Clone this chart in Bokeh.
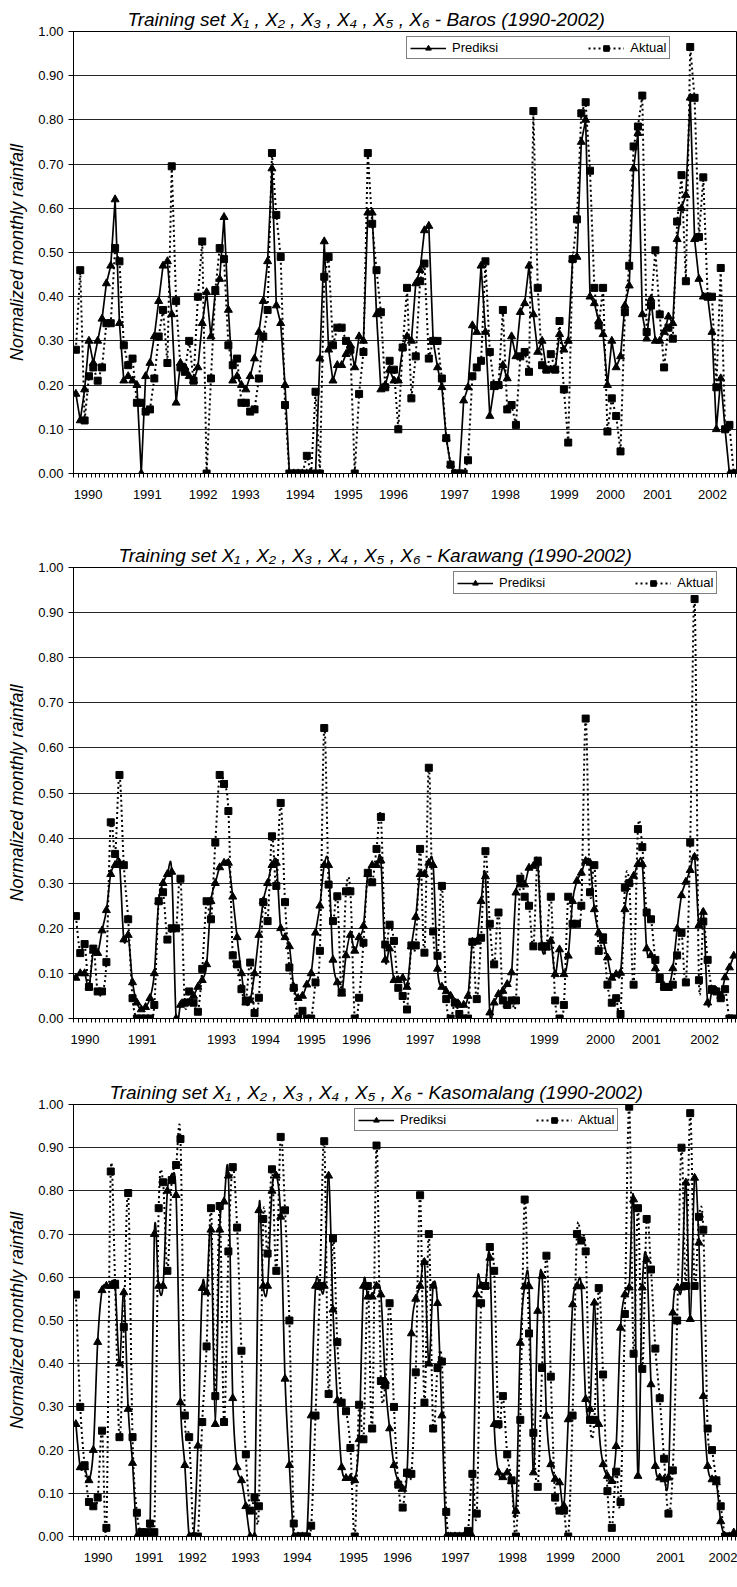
import numpy as np
from bokeh.plotting import figure
from bokeh.models import (Range1d, FixedTicker, Legend, LegendItem,
                          NumeralTickFormatter, ColumnDataSource)
from bokeh.layouts import column
from bokeh.embed import file_html
from bokeh.resources import INLINE

# ---------------- data ----------------
YEARS_ALL = ["1990", "1991", "1992", "1993", "1994", "1995", "1996",
             "1997", "1998", "1999", "2000", "2001", "2002"]
YEARS_KARAWANG = ["1990", "1991", "1993", "1994", "1995", "1996",
                  "1997", "1998", "1999", "2000", "2001", "2002"]

BAROS_PREDIKSI = [
    0.18, 0.12, 0.19, 0.30, 0.25, 0.30, 0.35, 0.43, 0.47, 0.62,
    0.34, 0.21, 0.22, 0.21, 0.20, 0.00, 0.22, 0.25, 0.31, 0.39,
    0.47, 0.48, 0.36, 0.16, 0.25, 0.24, 0.22, 0.21, 0.24, 0.34,
    0.41, 0.31, 0.41, 0.44, 0.58, 0.37, 0.21, 0.22, 0.20, 0.19,
    0.22, 0.26, 0.32, 0.39, 0.48, 0.69, 0.38, 0.34, 0.20, 0.00,
    0.00, 0.00, 0.00, 0.00, 0.00, 0.00, 0.26, 0.525, 0.28, 0.21,
    0.245, 0.245, 0.27, 0.29, 0.24, 0.31, 0.30, 0.59, 0.59, 0.36,
    0.19, 0.20, 0.235, 0.21, 0.21, 0.285, 0.31, 0.30, 0.43, 0.46,
    0.55, 0.56, 0.30, 0.24, 0.195, 0.08, 0.02, 0.00, 0.00, 0.165,
    0.195, 0.335, 0.32, 0.47, 0.32, 0.13, 0.195, 0.20, 0.245, 0.215,
    0.31, 0.265, 0.365, 0.385, 0.47, 0.36, 0.275, 0.30, 0.235, 0.235,
    0.235, 0.315, 0.28, 0.30, 0.485, 0.49, 0.75, 0.80, 0.40, 0.385,
    0.345, 0.315, 0.20, 0.30, 0.24, 0.265, 0.38, 0.425, 0.69, 0.77,
    0.36, 0.305, 0.395, 0.30, 0.30, 0.32, 0.355, 0.34, 0.53, 0.60,
    0.63, 0.85, 0.53, 0.44, 0.40, 0.40, 0.32, 0.10, 0.215, 0.10,
    0.00, 0.00, 0.00]
BAROS_AKTUAL = [
    0.28, 0.46, 0.12, 0.22, 0.24, 0.21, 0.24, 0.34, 0.34, 0.51,
    0.48, 0.29, 0.245, 0.26, 0.16, 0.16, 0.14, 0.145, 0.215, 0.31,
    0.37, 0.25, 0.695, 0.39, 0.24, 0.23, 0.30, 0.21, 0.40, 0.525,
    0.00, 0.215, 0.415, 0.51, 0.485, 0.29, 0.245, 0.26, 0.16, 0.16,
    0.14, 0.145, 0.215, 0.31, 0.37, 0.725, 0.585, 0.49, 0.155, 0.00,
    0.00, 0.00, 0.00, 0.04, 0.00, 0.185, 0.00, 0.445, 0.49, 0.29,
    0.33, 0.33, 0.30, 0.28, 0.00, 0.18, 0.275, 0.725, 0.565, 0.46,
    0.365, 0.195, 0.255, 0.235, 0.10, 0.285, 0.42, 0.17, 0.265, 0.435,
    0.475, 0.26, 0.30, 0.30, 0.215, 0.08, 0.02, 0.00, 0.00, 0.00,
    0.03, 0.22, 0.24, 0.255, 0.48, 0.275, 0.20, 0.20, 0.37, 0.145,
    0.155, 0.11, 0.265, 0.275, 0.23, 0.82, 0.42, 0.245, 0.235, 0.27,
    0.235, 0.345, 0.19, 0.07, 0.485, 0.575, 0.815, 0.84, 0.685, 0.42,
    0.335, 0.42, 0.095, 0.17, 0.13, 0.05, 0.365, 0.47, 0.74, 0.785,
    0.855, 0.32, 0.38, 0.505, 0.36, 0.24, 0.33, 0.305, 0.57, 0.675,
    0.435, 0.965, 0.85, 0.535, 0.67, 0.40, 0.40, 0.195, 0.465, 0.10,
    0.11, 0.00, 0.00]

KARAWANG_PREDIKSI = [
    0.09, 0.10, 0.10, 0.07, 0.15, 0.145, 0.195, 0.24, 0.32, 0.34,
    0.345, 0.175, 0.185, 0.08, 0.035, 0.02, 0.025, 0.045, 0.10, 0.26,
    0.30, 0.32, 0.325, 0.00, 0.03, 0.035, 0.035, 0.05, 0.07, 0.085,
    0.12, 0.26, 0.30, 0.335, 0.345, 0.345, 0.27, 0.18, 0.10, 0.035,
    0.04, 0.10, 0.185, 0.26, 0.30, 0.34, 0.345, 0.20, 0.18, 0.16,
    0.07, 0.045, 0.05, 0.075, 0.10, 0.19, 0.25, 0.34, 0.34, 0.13,
    0.08, 0.055, 0.14, 0.185, 0.15, 0.18, 0.205, 0.32, 0.34, 0.34,
    0.35, 0.13, 0.155, 0.085, 0.085, 0.09, 0.07, 0.16, 0.225, 0.32,
    0.32, 0.345, 0.34, 0.11, 0.07, 0.06, 0.05, 0.035, 0.03, 0.03,
    0.05, 0.17, 0.17, 0.26, 0.315, 0.013, 0.035, 0.054, 0.061, 0.076,
    0.102, 0.279, 0.297, 0.297, 0.334, 0.338, 0.345, 0.157, 0.157, 0.172,
    0.098, 0.153, 0.098, 0.139, 0.26, 0.305, 0.323, 0.349, 0.345, 0.242,
    0.19, 0.172, 0.135, 0.09, 0.098, 0.101, 0.242, 0.301, 0.316, 0.342,
    0.342, 0.155, 0.14, 0.111, 0.085, 0.072, 0.068, 0.111, 0.199, 0.273,
    0.303, 0.329, 0.358, 0.207, 0.236, 0.035, 0.061, 0.061, 0.05, 0.091,
    0.113, 0.139]
KARAWANG_AKTUAL = [
    0.227, 0.145, 0.165, 0.07, 0.155, 0.06, 0.06, 0.125, 0.435, 0.365,
    0.54, 0.34, 0.22, 0.045, 0.00, 0.00, 0.00, 0.00, 0.03, 0.26,
    0.28, 0.175, 0.20, 0.20, 0.31, 0.035, 0.06, 0.035, 0.015, 0.11,
    0.26, 0.22, 0.39, 0.54, 0.52, 0.46, 0.14, 0.12, 0.065, 0.04,
    0.124, 0.012, 0.046, 0.258, 0.216, 0.404, 0.294, 0.478, 0.258, 0.113,
    0.068, 0.00, 0.017, 0.00, 0.00, 0.08, 0.15, 0.644, 0.297, 0.216,
    0.271, 0.058, 0.282, 0.282, 0.00, 0.046, 0.168, 0.323, 0.302, 0.376,
    0.447, 0.164, 0.208, 0.172, 0.068, 0.05, 0.02, 0.162, 0.162, 0.376,
    0.146, 0.556, 0.193, 0.139, 0.294, 0.043, 0.00, 0.035, 0.01, 0.00,
    0.00, 0.17, 0.043, 0.179, 0.371, 0.21, 0.12, 0.235, 0.04, 0.03,
    0.04, 0.04, 0.31, 0.27, 0.25, 0.16, 0.35, 0.16, 0.16, 0.27,
    0.04, 0.00, 0.03, 0.27, 0.21, 0.21, 0.25, 0.665, 0.28, 0.34,
    0.15, 0.18, 0.075, 0.035, 0.045, 0.01, 0.29, 0.30, 0.075, 0.42,
    0.38, 0.235, 0.22, 0.13, 0.09, 0.07, 0.07, 0.075, 0.14, 0.19,
    0.08, 0.39, 0.93, 0.085, 0.215, 0.13, 0.065, 0.06, 0.045, 0.065,
    0.00, 0.00]

KASOMALANG_PREDIKSI = [
    0.26, 0.16, 0.16, 0.13, 0.20, 0.45, 0.57, 0.58, 0.58, 0.58,
    0.40, 0.565, 0.295, 0.17, 0.00, 0.00, 0.00, 0.00, 0.70, 0.58,
    0.58, 0.80, 0.83, 0.79, 0.31, 0.165, 0.00, 0.00, 0.21, 0.575,
    0.565, 0.71, 0.26, 0.71, 0.775, 0.835, 0.32, 0.16, 0.13, 0.07,
    0.00, 0.00, 0.755, 0.58, 0.58, 0.80, 0.835, 0.74, 0.365, 0.165,
    0.00, 0.00, 0.00, 0.00, 0.28, 0.58, 0.58, 0.58, 0.835, 0.525,
    0.315, 0.16, 0.135, 0.135, 0.13, 0.225, 0.58, 0.555, 0.555, 0.58,
    0.56, 0.36, 0.25, 0.165, 0.125, 0.11, 0.145, 0.47, 0.55, 0.58,
    0.635, 0.40, 0.58, 0.54, 0.28, 0.00, 0.00, 0.00, 0.00, 0.00,
    0.00, 0.00, 0.56, 0.58, 0.58, 0.645, 0.26, 0.148, 0.137, 0.148,
    0.128, 0.059, 0.448, 0.579, 0.579, 0.148, 0.522, 0.603, 0.279, 0.167,
    0.133, 0.125, 0.071, 0.271, 0.537, 0.579, 0.579, 0.318, 0.295, 0.541,
    0.26, 0.167, 0.14, 0.128, 0.209, 0.483, 0.56, 0.576, 0.78, 0.14,
    0.576, 0.641, 0.352, 0.163, 0.136, 0.132, 0.136, 0.518, 0.576, 0.576,
    0.819, 0.503, 0.83, 0.68, 0.325, 0.163, 0.132, 0.125, 0.035, 0.00,
    0.00, 0.009]
KASOMALANG_AKTUAL = [
    0.56, 0.30, 0.165, 0.08, 0.07, 0.09, 0.245, 0.02, 0.845, 0.585,
    0.23, 0.485, 0.795, 0.23, 0.055, 0.01, 0.01, 0.03, 0.01, 0.76,
    0.82, 0.615, 0.825, 0.86, 0.92, 0.28, 0.23, 0.00, 0.00, 0.265,
    0.44, 0.76, 0.325, 0.765, 0.265, 0.66, 0.855, 0.715, 0.43, 0.19,
    0.06, 0.09, 0.07, 0.735, 0.655, 0.85, 0.615, 0.925, 0.755, 0.50,
    0.03, 0.00, 0.00, 0.00, 0.025, 0.28, 0.58, 0.915, 0.33, 0.69,
    0.45, 0.31, 0.29, 0.205, 0.00, 0.305, 0.225, 0.58, 0.25, 0.905,
    0.36, 0.35, 0.54, 0.30, 0.12, 0.067, 0.148, 0.145, 0.38, 0.79,
    0.31, 0.70, 0.25, 0.39, 0.405, 0.057, 0.00, 0.00, 0.00, 0.00,
    0.013, 0.145, 0.053, 0.54, 0.58, 0.67, 0.615, 0.26, 0.325, 0.19,
    0.13, 0.00, 0.27, 0.78, 0.47, 0.24, 0.115, 0.39, 0.65, 0.37,
    0.09, 0.06, 0.06, 0.00, 0.28, 0.70, 0.685, 0.66, 0.27, 0.27,
    0.575, 0.375, 0.105, 0.02, 0.15, 0.08, 0.515, 0.995, 0.423, 0.76,
    0.388, 0.735, 0.618, 0.435, 0.32, 0.18, 0.053, 0.153, 0.50, 0.90,
    0.58, 0.98, 0.58, 0.74, 0.71, 0.25, 0.20, 0.13, 0.07, 0.00,
    0.00, 0.00]

# ---------------- layout constants ----------------
FONT = "Liberation Sans"
FRAME_W = 664
BORDER_LEFT = 73
X_START, X_END = -0.55, 151.85
BAROS_TICK_POS = [2.8, 16.4, 29.2, 38.9, 51.5, 62.5, 72.9, 86.9, 98.6,
                  112.1, 122.7, 133.5, 146.1]
KARAWANG_TICK_POS = [2.1, 15.2, 33.4, 43.5, 54.0, 64.4, 79.0, 89.6,
                     107.5, 120.4, 130.9, 144.3]
KASOMALANG_TICK_POS = [5.1, 16.8, 26.7, 38.9, 50.8, 63.7, 73.8, 87.1,
                       100.2, 111.2, 121.6, 136.5, 148.6]


def smooth_source(ys):
    y = np.asarray(ys, dtype=float)
    n = len(y)
    x = np.arange(n, dtype=float)
    i = np.arange(n - 1)
    ia = np.maximum(i - 1, 0)
    ic = i + 1
    idd = np.minimum(i + 2, n - 1)
    return ColumnDataSource(dict(
        x0=x[i], y0=y[i], x1=x[ic], y1=y[ic],
        cx0=x[i] + (x[ic] - x[ia]) / 6.0, cy0=y[i] + (y[ic] - y[ia]) / 6.0,
        cx1=x[ic] - (x[idd] - x[i]) / 6.0, cy1=y[ic] - (y[idd] - y[i]) / 6.0))


def make_panel(title, pred, akt, tick_labels, tick_pos, frame_h, b_top,
               b_bottom, title_offset, legend_xy, smooth):
    p = figure(frame_width=FRAME_W, frame_height=frame_h,
               output_backend="svg", toolbar_location=None,
               x_range=Range1d(X_START, X_END), y_range=Range1d(0, 1),
               min_border_left=BORDER_LEFT, min_border_right=0,
               min_border_top=b_top, min_border_bottom=b_bottom)
    p.background_fill_color = "white"
    p.border_fill_color = "white"
    p.outline_line_color = "black"
    p.outline_line_width = 1

    p.title.text = title
    p.title.text_font = FONT
    p.title.text_font_size = "19px"
    p.title.text_font_style = "italic"
    p.title.text_color = "black"
    p.title.align = "left"
    p.title.offset = title_offset
    p.title.standoff = 4

    # y axis
    p.yaxis.ticker = FixedTicker(ticks=[k / 10 for k in range(11)])
    p.yaxis.formatter = NumeralTickFormatter(format="0.00")
    p.yaxis.axis_line_color = "black"
    p.yaxis.major_tick_line_color = "black"
    p.yaxis.major_tick_out = 5
    p.yaxis.major_tick_in = 0
    p.yaxis.minor_tick_line_color = None
    p.yaxis.major_label_standoff = 5
    p.yaxis.major_label_text_font = FONT
    p.yaxis.major_label_text_font_size = "13px"
    p.yaxis.major_label_text_color = "black"
    p.yaxis.axis_label = "Normalized monthly rainfall"
    p.yaxis.axis_label_text_font = FONT
    p.yaxis.axis_label_text_font_size = "18px"
    p.yaxis.axis_label_text_font_style = "italic"
    p.yaxis.axis_label_text_color = "black"
    p.yaxis.axis_label_standoff = 8

    # x axis: monthly minor ticks, year labels
    n = max(len(pred), len(akt))
    p.xaxis.ticker = FixedTicker(ticks=tick_pos,
                                 minor_ticks=[k - 0.5 for k in range(n + 2)])
    p.xaxis.major_label_overrides = {pos: lab for pos, lab in zip(tick_pos, tick_labels)}
    p.xaxis.axis_line_color = "black"
    p.xaxis.major_tick_out = 0
    p.xaxis.major_tick_in = 0
    p.xaxis.minor_tick_out = 4
    p.xaxis.minor_tick_in = 0
    p.xaxis.minor_tick_line_color = "black"
    p.xaxis.major_label_standoff = 12
    p.xaxis.major_label_text_font = FONT
    p.xaxis.major_label_text_font_size = "13px"
    p.xaxis.major_label_text_color = "black"

    p.xgrid.visible = False
    p.ygrid.grid_line_color = "black"
    p.ygrid.grid_line_alpha = 0.85
    p.ygrid.grid_line_width = 1

    xp = list(range(len(pred)))
    xa = list(range(len(akt)))
    pred_style = dict(line_color="black", line_width=1.7)
    akt_style = dict(line_color="black", line_width=2, line_dash="2 3")

    if smooth:
        p.bezier(x0="x0", y0="y0", x1="x1", y1="y1", cx0="cx0", cy0="cy0",
                 cx1="cx1", cy1="cy1", source=smooth_source(akt), **akt_style)
        p.bezier(x0="x0", y0="y0", x1="x1", y1="y1", cx0="cx0", cy0="cy0",
                 cx1="cx1", cy1="cy1", source=smooth_source(pred), **pred_style)
        # legend-only line samples (no visible data)
        akt_line = p.line(x=np.array([np.nan]), y=np.array([np.nan]), **akt_style)
        pred_line = p.line(x=np.array([np.nan]), y=np.array([np.nan]), **pred_style)
    else:
        akt_line = p.line(xa, akt, **akt_style)
        pred_line = p.line(xp, pred, **pred_style)

    akt_mark = p.scatter(xa, akt, marker="square", size=7,
                         fill_color="black", line_color="black")
    pred_mark = p.scatter(xp, pred, marker="triangle", size=8,
                          fill_color="black", line_color="black")

    legend = Legend(items=[
        LegendItem(label="Prediksi", renderers=[pred_line, pred_mark]),
        LegendItem(label="Aktual", renderers=[akt_line, akt_mark])],
        location=legend_xy, orientation="horizontal")
    legend.border_line_color = "black"
    legend.border_line_width = 1
    legend.background_fill_color = "white"
    legend.background_fill_alpha = 1
    legend.label_text_font = FONT
    legend.label_text_font_size = "13px"
    legend.label_text_color = "black"
    legend.glyph_width = 36
    legend.glyph_height = 14
    legend.label_height = 14
    legend.label_standoff = 6
    legend.spacing = 90
    legend.padding = 3
    legend.margin = 0
    p.add_layout(legend)
    return p


TITLE_FMT = "Training set X\u2081 , X\u2082 , X\u2083 , X\u2084 , X\u2085 , X\u2086 - {} (1990-2002)"

p1 = make_panel(TITLE_FMT.format("Baros"),
                BAROS_PREDIKSI, BAROS_AKTUAL, YEARS_ALL, BAROS_TICK_POS,
                frame_h=442, b_top=31, b_bottom=50, title_offset=54,
                legend_xy=(333, 414), smooth=False)
p2 = make_panel(TITLE_FMT.format("Karawang"),
                KARAWANG_PREDIKSI, KARAWANG_AKTUAL, YEARS_KARAWANG, KARAWANG_TICK_POS,
                frame_h=451, b_top=44, b_bottom=40, title_offset=45,
                legend_xy=(380, 424), smooth=True)
p3 = make_panel(TITLE_FMT.format("Kasomalang"),
                KASOMALANG_PREDIKSI, KASOMALANG_AKTUAL, YEARS_ALL, KASOMALANG_TICK_POS,
                frame_h=432, b_top=46, b_bottom=34, title_offset=36,
                legend_xy=(281, 405), smooth=True)

layout = column(p1, p2, p3, spacing=0)
open("out.html", "w").write(file_html(layout, INLINE))
